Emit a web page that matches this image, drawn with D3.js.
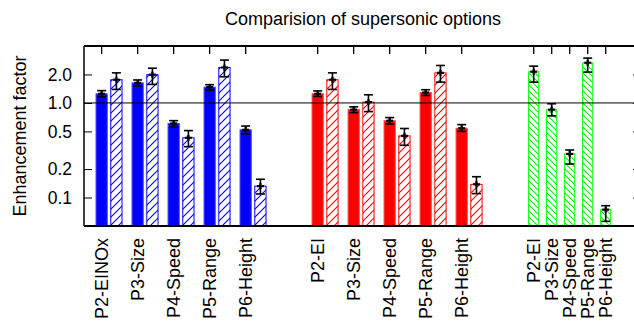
<!DOCTYPE html>
<html><head><meta charset="utf-8">
<script src="https://cdn.jsdelivr.net/npm/d3@7"></script>
<style>
html,body{margin:0;padding:0;background:#fff;}
text{font-family:"Liberation Sans",Arial,sans-serif;fill:#000;}
</style>
</head><body>
<svg id="chart" width="634" height="322"></svg>
<script>
// ---- data ----
const title = "Comparision of supersonic options";
const yLabel = "Enhancement factor";
const yTicks = [0.1, 0.2, 0.5, 1.0, 2.0];

const blueCats = ["P2-EINOx", "P3-Size", "P4-Speed", "P5-Range", "P6-Height"];
const blueSolid = [1.25, 1.63, 0.607, 1.47, 0.52];
const blueSolidLo = [1.16, 1.51, 0.56, 1.37, 0.47];
const blueSolidHi = [1.35, 1.75, 0.65, 1.56, 0.57];
const blueHatch = [1.76, 1.99, 0.428, 2.37, 0.132];
const blueHatchLo = [1.39, 1.57, 0.345, 1.89, 0.109];
const blueHatchHi = [2.08, 2.33, 0.51, 2.84, 0.156];

const redCats = ["P2-EI", "P3-Size", "P4-Speed", "P5-Range", "P6-Height"];
const redSolid = [1.25, 0.85, 0.648, 1.29, 0.54];
const redSolidLo = [1.17, 0.79, 0.60, 1.20, 0.50];
const redSolidHi = [1.34, 0.91, 0.70, 1.38, 0.59];
const redHatch = [1.76, 1.02, 0.449, 2.08, 0.138];
const redHatchLo = [1.39, 0.81, 0.357, 1.66, 0.110];
const redHatchHi = [2.08, 1.22, 0.537, 2.49, 0.166];

const greenCats = ["P2-EI", "P3-Size", "P4-Speed", "P5-Range", "P6-Height"];
const greenHatch = [2.14, 0.85, 0.289, 2.66, 0.0745];
const greenHatchLo = [1.66, 0.73, 0.226, 2.12, 0.056];
const greenHatchHi = [2.45, 0.98, 0.318, 2.98, 0.082];

// ---- layout ----
const L = 84, R = 641, T = 46, B = 226;
const svg = d3.select("#chart");
const x = d3.scaleLinear().domain([-0.49, 14.98]).range([L, R]);
const y = d3.scaleLog().domain([0.05, 4]).range([B, T]);
const BLUE = "#0000ff", RED = "#ff0000", GREEN = "#00ff00";

// patterns
const defs = svg.append("defs");
function hatch(id, color, size, back) {
  const p = defs.append("pattern").attr("id", id).attr("patternUnits", "userSpaceOnUse")
    .attr("width", size).attr("height", size);
  p.append("rect").attr("width", size).attr("height", size).attr("fill", "#fff");
  const s = size;
  const lines = back
    ? [[0,0,s,s],[-s/2,s/2,s/2,s*1.5],[s/2,-s/2,s*1.5,s/2]]
    : [[0,s,s,0],[-s/2,s/2,s/2,-s/2],[s/2,s*1.5,s*1.5,s/2]];
  lines.forEach(l => p.append("line").attr("x1", l[0]).attr("y1", l[1]).attr("x2", l[2]).attr("y2", l[3])
    .attr("stroke", color).attr("stroke-width", 1.1));
}
hatch("hb", BLUE, 8, false);
hatch("hr", RED, 8, false);
hatch("hg", GREEN, 6, true);

// build series
const series = [];
function addSeries(cats, vals, lo, hi, pos, off, w, fill, stroke) {
  vals.forEach((v, i) => series.push({u: pos(i) + off, v, lo: lo[i], hi: hi[i], w, fill, stroke}));
}
const bw = 0.34, off2 = 0.41;
addSeries(blueCats, blueSolid, blueSolidLo, blueSolidHi, i => i, 0, bw, BLUE, "#4a4aff");
addSeries(blueCats, blueHatch, blueHatchLo, blueHatchHi, i => i, off2, bw, "url(#hb)", BLUE);
addSeries(redCats, redSolid, redSolidLo, redSolidHi, i => 6 + i, 0, bw, RED, "#ff4a4a");
addSeries(redCats, redHatch, redHatchLo, redHatchHi, i => 6 + i, off2, bw, "url(#hr)", RED);
addSeries(greenCats, greenHatch, greenHatchLo, greenHatchHi, i => 12 + 0.5 * i, 0, 0.31, "url(#hg)", GREEN);

const pxPerUnit = x(1) - x(0);

// bars
svg.append("g").selectAll("rect").data(series).join("rect")
  .attr("x", d => x(d.u) - d.w * pxPerUnit / 2 + 0.5)
  .attr("width", d => d.w * pxPerUnit - 1)
  .attr("y", d => y(d.v))
  .attr("height", d => B - y(d.v))
  .attr("fill", d => d.fill)
  .attr("stroke", d => d.stroke)
  .attr("stroke-width", 1);

// reference line at 1.0
svg.append("line").attr("x1", L).attr("x2", R).attr("y1", y(1)).attr("y2", y(1))
  .attr("stroke", "#000").attr("stroke-width", 1);

// error bars
const eb = svg.append("g").attr("stroke", "#000").attr("stroke-width", 1.6);
series.forEach(d => {
  const cx = x(d.u);
  eb.append("line").attr("x1", cx).attr("x2", cx).attr("y1", y(d.lo)).attr("y2", y(d.hi));
  [d.lo, d.hi].forEach(val => eb.append("line").attr("x1", cx - 4.5).attr("x2", cx + 4.5)
    .attr("y1", y(val)).attr("y2", y(val)));
  eb.append("line").attr("x1", cx - 3.5).attr("x2", cx + 3.5).attr("y1", y(d.v)).attr("y2", y(d.v)).attr("stroke-width", 2.2);
  eb.append("line").attr("x1", cx).attr("x2", cx).attr("y1", y(d.v) - 3).attr("y2", y(d.v) + 3).attr("stroke-width", 2.2);
});

// frame
svg.append("line").attr("x1", L).attr("x2", R).attr("y1", T).attr("y2", T).attr("stroke", "#000").attr("stroke-width", 2);
svg.append("line").attr("x1", L).attr("x2", R).attr("y1", B).attr("y2", B).attr("stroke", "#000").attr("stroke-width", 2);
svg.append("line").attr("x1", L).attr("x2", L).attr("y1", T).attr("y2", B).attr("stroke", "#000").attr("stroke-width", 1.5);
svg.append("line").attr("x1", R).attr("x2", R).attr("y1", T).attr("y2", B).attr("stroke", "#000").attr("stroke-width", 1.5);

// y axis (left) and mirror ticks (right)
const yAxis = d3.axisLeft(y).tickValues(yTicks).tickFormat(d3.format(".1f")).tickSizeInner(-8).tickSizeOuter(0).tickPadding(12);
const gy = svg.append("g").attr("transform", `translate(${L},0)`).call(yAxis);
gy.select(".domain").remove();
gy.selectAll("line").attr("stroke-width", 1);
gy.selectAll("text").style("font-size", "17.5px").style("font-family", "Liberation Sans, Arial, sans-serif");
const gy2 = svg.append("g").attr("transform", `translate(${R},0)`)
  .call(d3.axisRight(y).tickValues(yTicks).tickSizeInner(-8).tickSizeOuter(0).tickFormat(""));
gy2.select(".domain").remove();

// x ticks at top (mirror) and category labels at bottom
const allTicks = [];
blueCats.forEach((c, i) => allTicks.push({u: i, label: c}));
redCats.forEach((c, i) => allTicks.push({u: 6 + i, label: c}));
greenCats.forEach((c, i) => allTicks.push({u: 12 + 0.5 * i, label: c}));

svg.append("g").selectAll("line").data(allTicks).join("line")
  .attr("x1", d => x(d.u)).attr("x2", d => x(d.u)).attr("y1", T).attr("y2", T + 8)
  .attr("stroke", "#000").attr("stroke-width", 1.3);

svg.append("g").selectAll("text").data(allTicks).join("text")
  .attr("transform", d => `translate(${x(d.u)},238) rotate(-90)`)
  .attr("text-anchor", "end").attr("dy", "0.36em")
  .style("font-size", "18px")
  .text(d => d.label);

// title & y label
svg.append("text").attr("x", 363).attr("y", 25).attr("text-anchor", "middle").style("font-size", "18px").text(title);
svg.append("text").attr("transform", `translate(26,${(T + B) / 2}) rotate(-90)`).attr("text-anchor", "middle")
  .style("font-size", "18px").text(yLabel);
</script>
</body></html>
